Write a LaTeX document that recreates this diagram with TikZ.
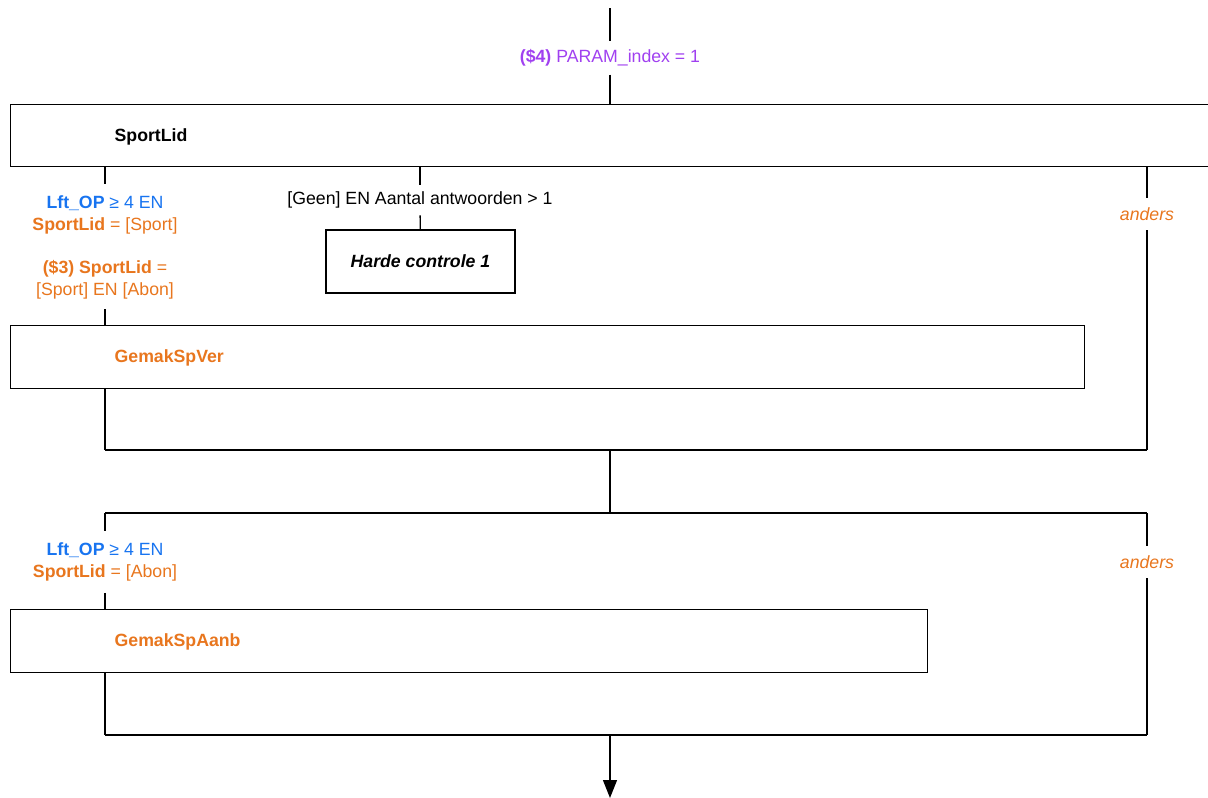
\documentclass[tikz,border=0pt]{standalone}
\usepackage{fontspec}
\setmainfont{Liberation Sans}
\usetikzlibrary{arrows.meta}
\definecolor{cblue}{RGB}{24,116,240}
\definecolor{corange}{RGB}{232,118,30}
\definecolor{cpurple}{RGB}{160,64,240}
\begin{document}
\begin{tikzpicture}[x=1pt,y=-1pt,line width=1.3pt,
  every node/.style={font=\fontsize{17.7}{22}\selectfont},
  box/.style={draw,line width=1.3pt,anchor=north west,inner sep=0pt},
  boxtext/.style={anchor=base west,inner sep=0pt},
  cond/.style={align=center,inner xsep=0pt,inner ysep=11pt},
  single/.style={align=center,inner xsep=0pt,inner ysep=6.5pt},
  other/.style={inner xsep=0pt,inner ysep=9pt,text=corange,font=\fontsize{17.7}{22}\selectfont\itshape}]
\useasboundingbox (0,0) rectangle (1208,798);

% boxes
\node[box,minimum width=1210pt,minimum height=62pt] (sl) at (10,104) {};
\node[boxtext] (sltxt) at (114,141) {\textbf{SportLid}};
\node[box,minimum width=1074pt,minimum height=63pt] (gv) at (10,325) {};
\node[boxtext,text=corange] (gvtxt) at (114,362) {\textbf{GemakSpVer}};
\node[box,minimum width=917pt,minimum height=63pt] (ga) at (10,609) {};
\node[boxtext,text=corange] (gatxt) at (114,646) {\textbf{GemakSpAanb}};
\node[draw,line width=1.3pt,minimum width=189pt,minimum height=63pt,inner sep=0pt] (hk) at (420.5,261.5) {\textbf{\textit{Harde controle 1}}};

% labels
\coordinate (top) at (610,8);
\node[single,inner ysep=7.5pt,text=cpurple] (param) at (610,58) {\textbf{(\$4)} PARAM\_index = 1};
\node[cond] (c1) at (105,215) {\textcolor{cblue}{\textbf{Lft\_OP} ≥ 4 EN}\\\textcolor{corange}{\textbf{SportLid} = [Sport]}};
\node[cond,inner ysep=9pt,text=corange] (c1b) at (105,280) {\textbf{(\$3) SportLid} =\\{}[Sport] EN [Abon]};
\node[single] (cg) at (420,200) {[Geen] EN Aantal antwoorden > 1};
\node[other] (a1) at (1147,214) {anders};
\node[cond] (c2) at (105,562) {\textcolor{cblue}{\textbf{Lft\_OP} ≥ 4 EN}\\\textcolor{corange}{\textbf{SportLid} = [Abon]}};
\node[other] (a2) at (1147,562) {anders};

% junctions
\coordinate (j1l) at (105,450);
\coordinate (j1m) at (610,450);
\coordinate (j1r) at (1147,450);
\coordinate (j2l) at (105,513);
\coordinate (j2m) at (610,513);
\coordinate (j2r) at (1147,513);
\coordinate (j3l) at (105,735);
\coordinate (j3m) at (610,735);
\coordinate (j3r) at (1147,735);
\coordinate (end) at (610,798);

% connectors
\draw (top) -- (param);
\draw (param) -- (param |- sl.north);
\draw (sl.south -| c1) -- (c1);
\draw (c1b) -- (c1b |- gv.north);
\draw (sl.south -| cg) -- (cg);
\draw (cg) -- (hk);
\draw (sl.south -| a1) -- (a1);
\draw (a1) -- (j1r);
\draw (gv.south -| j1l) -- (j1l);
\draw (j1l) -- (j1r);
\draw (j1m) -- (j2m);
\draw (j2l) -- (j2r);
\draw (j2l) -- (c2);
\draw (c2) -- (c2 |- ga.north);
\draw (j2r) -- (a2);
\draw (a2) -- (j3r);
\draw (ga.south -| j3l) -- (j3l);
\draw (j3l) -- (j3r);
\draw[-{Triangle[length=18pt,width=14pt]}] (j3m) -- (end);
\end{tikzpicture}
\end{document}
